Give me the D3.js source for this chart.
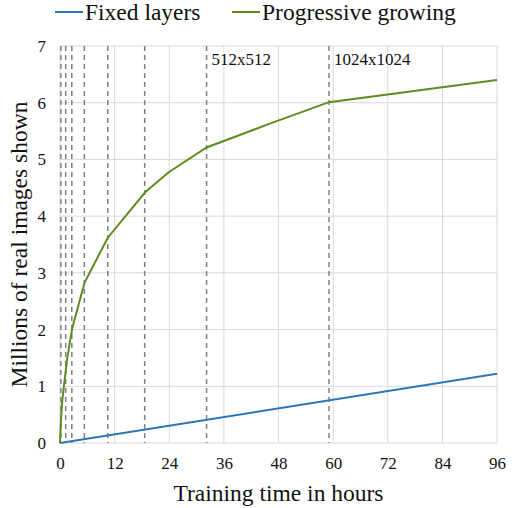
<!DOCTYPE html>
<html>
  <head>
    <meta charset="utf-8">
    <script src="https://cdn.jsdelivr.net/npm/d3@7"></script>
  </head>
  <body style="margin:0">
    <svg id="chart" width="512" height="508" style="font-family: 'Times New Roman', Times, serif">
      <g id="gridGroup"></g>
      <g id="stageGroup"></g>
      <g id="lineGroup"></g>
      <g id="xAxisGroup"></g>
      <g id="yAxisGroup"></g>
      <g id="legend"></g>
    </svg>

    <script>
      // data
      var xTicks = [0, 12, 24, 36, 48, 60, 72, 84, 96];
      var yTicks = [0, 1, 2, 3, 4, 5, 6, 7];
      var stageHours = [0.2, 1.25, 2.6, 5.35, 10.5, 18.6, 32.2, 59.1];
      var stageLabels = [
        { hour: 32.2, text: "512x512" },
        { hour: 59.1, text: "1024x1024" }
      ];
      var fixedHours = [0, 96];
      var fixedImages = [0, 1.22];
      var progHours = [0, 0.2, 0.5, 1.0, 1.6, 2.7, 5.4, 10.5, 18.7, 23.8, 32.2, 46.4, 59.1, 96];
      var progImages = [0, 0.4, 0.75, 1.1, 1.5, 2.03, 2.83, 3.62, 4.42, 4.77, 5.21, 5.64, 6.01, 6.4];

      var chart = d3.select("#chart");
      var margin = { top: 46, right: 15, bottom: 65, left: 60 };
      var width = 512, height = 508;

      var x = d3.scaleLinear().domain([0, 96]).range([margin.left, width - margin.right]);
      var y = d3.scaleLinear().domain([0, 7]).range([height - margin.bottom, margin.top]);

      // grid
      var grid = d3.select("#gridGroup");
      grid.selectAll(".vgrid")
        .data(xTicks)
        .enter().append("line")
          .attr("x1", function(d) { return x(d); })
          .attr("x2", function(d) { return x(d); })
          .attr("y1", y(0))
          .attr("y2", y(7))
          .attr("stroke", "#d9d9d9");
      grid.selectAll(".hgrid")
        .data(yTicks)
        .enter().append("line")
          .attr("x1", x(0))
          .attr("x2", x(96))
          .attr("y1", function(d) { return y(d); })
          .attr("y2", function(d) { return y(d); })
          .attr("stroke", "#d9d9d9");

      // stage boundaries
      var stages = d3.select("#stageGroup");
      stages.selectAll("line")
        .data(stageHours)
        .enter().append("line")
          .attr("x1", function(d) { return x(d); })
          .attr("x2", function(d) { return x(d); })
          .attr("y1", y(7))
          .attr("y2", y(0))
          .attr("stroke", "#808080")
          .attr("stroke-width", 1.5)
          .attr("stroke-dasharray", "5 4");
      stages.selectAll("text")
        .data(stageLabels)
        .enter().append("text")
          .attr("x", function(d) { return x(d.hour) + 5; })
          .attr("y", y(7) + 19)
          .attr("font-size", 17)
          .attr("fill", "#111")
          .text(function(d) { return d.text; });

      // lines
      var line = d3.line()
        .x(function(d) { return x(d[0]); })
        .y(function(d) { return y(d[1]); });
      var lines = d3.select("#lineGroup");
      lines.append("path")
        .datum(d3.zip(fixedHours, fixedImages))
        .attr("d", line)
        .attr("fill", "none")
        .attr("stroke", "#2e75b6")
        .attr("stroke-width", 2);
      lines.append("path")
        .datum(d3.zip(progHours, progImages))
        .attr("d", line)
        .attr("fill", "none")
        .attr("stroke", "#5e8c1f")
        .attr("stroke-width", 2);

      // axes
      var xAxis = d3.axisBottom(x).tickValues(xTicks).tickFormat(d3.format("d")).tickSize(0).tickPadding(14);
      var yAxis = d3.axisLeft(y).tickValues(yTicks).tickFormat(d3.format("d")).tickSize(0).tickPadding(14);
      d3.select("#xAxisGroup")
        .attr("transform", "translate(0," + y(0) + ")")
        .call(xAxis)
        .attr("font-family", null)
        .attr("font-size", 17);
      d3.select("#yAxisGroup")
        .attr("transform", "translate(" + x(0) + ",0)")
        .call(yAxis)
        .attr("font-family", null)
        .attr("font-size", 17);
      d3.selectAll("#xAxisGroup .domain, #yAxisGroup .domain").remove();
      d3.selectAll("#xAxisGroup text, #yAxisGroup text").attr("fill", "#111");

      // axis titles
      chart.append("text")
        .attr("x", (x(0) + x(96)) / 2)
        .attr("y", height - 7)
        .attr("text-anchor", "middle")
        .attr("font-size", 23.5)
        .attr("fill", "#111")
        .text("Training time in hours");
      chart.append("text")
        .attr("transform", "translate(27," + (y(0) + y(7)) / 2 + ") rotate(-90)")
        .attr("text-anchor", "middle")
        .attr("font-size", 23.5)
        .attr("fill", "#111")
        .text("Millions of real images shown");

      // legend
      var legendItems = [
        { label: "Fixed layers", color: "#2e75b6", x: 55 },
        { label: "Progressive growing", color: "#5e8c1f", x: 232 }
      ];
      var legend = d3.select("#legend")
        .selectAll("g")
        .data(legendItems)
        .enter().append("g")
          .attr("transform", function(d) { return "translate(" + d.x + ",12)"; });
      legend.append("line")
        .attr("x1", 0)
        .attr("x2", 28)
        .attr("stroke", function(d) { return d.color; })
        .attr("stroke-width", 2);
      legend.append("text")
        .attr("x", 30)
        .attr("y", 8)
        .attr("font-size", 23.5)
        .attr("fill", "#111")
        .text(function(d) { return d.label; });
    </script>
  </body>
</html>
